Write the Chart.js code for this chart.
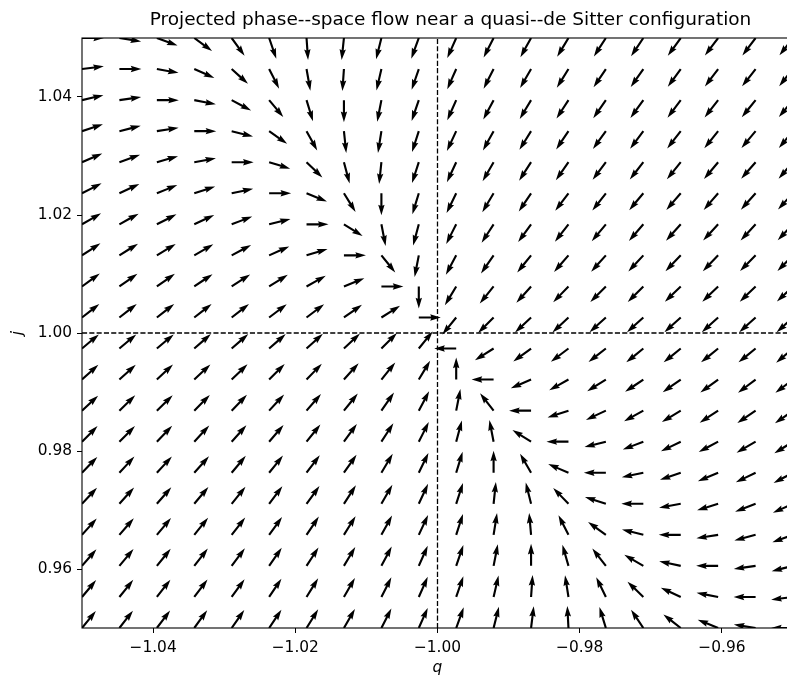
<!DOCTYPE html>
<html><head><meta charset="utf-8">
<script src="https://cdn.jsdelivr.net/npm/chart.js@4/dist/chart.umd.min.js"></script>
<style>html,body{margin:0;padding:0;background:#fff;overflow:hidden;} canvas{display:block;}</style>
</head><body>
<div style="width:800px;height:677px;position:relative"><canvas id="c" width="800" height="677"></canvas></div>
<script>
// Grid of the flow field (q = deceleration, j = jerk)
const qValues = [-1.05, -1.04474, -1.03947, -1.03421, -1.02895, -1.02368, -1.01842, -1.01316, -1.00789, -1.00263,
                 -0.99737, -0.99211, -0.98684, -0.98158, -0.97632, -0.97105, -0.96579, -0.96053, -0.95526, -0.95];
const jValues = [0.95, 0.95526, 0.96053, 0.96579, 0.97105, 0.97632, 0.98158, 0.98684, 0.99211, 0.99737,
                 1.00263, 1.00789, 1.01316, 1.01842, 1.02368, 1.02895, 1.03421, 1.03947, 1.04474, 1.05];
const qTicks = [-1.04, -1.02, -1.00, -0.98, -0.96];
const jTicks = [0.96, 0.98, 1.00, 1.02, 1.04];
const qRef = -1.0, jRef = 1.0;

const angleRows = [
  [51, 52, 53, 54, 55, 56, 58, 60, 63, 66, 70, 76, 83, 93, 107, 124, 142, 158, 171, 180],
  [50, 51, 52, 53, 54, 56, 58, 60, 63, 66, 71, 77, 86, 99, 116, 136, 155, 169, 180, -173],
  [49, 50, 51, 52, 53, 55, 57, 59, 62, 66, 71, 79, 90, 106, 128, 150, 168, 180, -172, -166],
  [48, 49, 50, 51, 52, 54, 56, 58, 61, 65, 72, 81, 95, 117, 144, 166, 180, -171, -165, -160],
  [47, 48, 49, 50, 51, 53, 54, 57, 60, 65, 72, 84, 104, 134, 162, 180, -170, -163, -159, -156],
  [46, 47, 47, 48, 50, 51, 53, 55, 59, 64, 73, 90, 120, 157, 180, -168, -161, -157, -154, -152],
  [45, 45, 46, 47, 48, 49, 51, 54, 57, 63, 75, 101, 148, 180, -166, -159, -154, -152, -150, -148],
  [43, 44, 44, 45, 46, 47, 49, 51, 55, 62, 79, 128, 180, -162, -155, -151, -149, -147, -146, -145],
  [42, 42, 43, 43, 44, 45, 46, 48, 51, 59, 90, 180, -157, -151, -148, -146, -145, -144, -143, -143],
  [40, 40, 40, 41, 41, 41, 42, 43, 45, 51, 180, -148, -144, -143, -142, -141, -141, -141, -141, -140],
  [38, 38, 38, 38, 38, 37, 37, 35, 32, 0, -129, -135, -137, -137, -138, -138, -138, -138, -138, -138],
  [36, 35, 35, 34, 33, 32, 29, 22, 0, -90, -121, -129, -132, -134, -135, -135, -136, -136, -136, -137],
  [33, 32, 31, 30, 28, 24, 17, 0, -51, -101, -118, -125, -129, -131, -132, -133, -134, -134, -135, -135],
  [30, 29, 27, 25, 21, 14, 0, -32, -79, -105, -117, -123, -126, -128, -130, -131, -132, -133, -133, -134],
  [27, 25, 22, 18, 12, 0, -22, -58, -90, -107, -116, -121, -124, -127, -128, -130, -131, -131, -132, -133],
  [23, 20, 16, 10, 0, -17, -44, -75, -96, -108, -115, -120, -123, -125, -127, -128, -129, -130, -131, -131],
  [18, 14, 9, 0, -14, -35, -61, -84, -99, -108, -115, -119, -122, -124, -126, -127, -128, -129, -130, -130],
  [13, 8, 0, -11, -28, -50, -73, -90, -101, -109, -114, -118, -121, -123, -125, -126, -127, -128, -129, -130],
  [7, 0, -10, -24, -42, -63, -80, -94, -103, -109, -114, -117, -120, -122, -124, -125, -126, -127, -128, -129],
  [0, -9, -20, -36, -54, -71, -86, -96, -104, -110, -114, -117, -119, -121, -123, -124, -126, -127, -127, -128]
];

const titleText = 'Projected phase--space flow near a quasi--de Sitter configuration';
const xLabel = 'q', yLabel = 'j';

const points = [];
jValues.forEach((jv, k) => qValues.forEach((qv, i) => points.push({x: qv, y: jv, a: angleRows[k][i]})));

const fmt = v => Number(v).toFixed(2).replace('-', '\u2212');
const FONT = '"DejaVu Sans", sans-serif';
const TICK_SIZE = 15.4, TITLE_SIZE = 18.5;

const quiver = {
  id: 'quiver',
  afterDatasetsDraw(chart) {
    const {ctx, chartArea: ca, scales} = chart;
    const meta = chart.getDatasetMeta(0);
    const data = chart.data.datasets[0].data;
    ctx.save();
    ctx.beginPath();
    ctx.rect(ca.left, ca.top, ca.right - ca.left, ca.bottom - ca.top);
    ctx.clip();
    ctx.fillStyle = '#000';
    const L = 22, w = 2.13;
    const shape = [[0,-w/2],[L-4.5*w,-w/2],[L-5*w,-1.5*w],[L,0],[L-5*w,1.5*w],[L-4.5*w,w/2],[0,w/2]];
    meta.data.forEach((el, idx) => {
      const th = data[idx].a * Math.PI / 180;
      const c = Math.cos(th), s = -Math.sin(th);
      ctx.beginPath();
      shape.forEach(([u, v], n) => {
        const X = el.x + u * c - v * s, Y = el.y + u * s + v * c;
        n ? ctx.lineTo(X, Y) : ctx.moveTo(X, Y);
      });
      ctx.closePath();
      ctx.fill();
    });
    // reference lines
    ctx.strokeStyle = '#000';
    ctx.lineWidth = 1.3;
    ctx.setLineDash([5.1, 2.2]);
    const xr = scales.x.getPixelForValue(qRef);
    ctx.beginPath(); ctx.moveTo(xr, ca.bottom); ctx.lineTo(xr, ca.top); ctx.stroke();
    const yr = scales.y.getPixelForValue(jRef);
    ctx.beginPath(); ctx.moveTo(ca.left, yr); ctx.lineTo(ca.right, yr); ctx.stroke();
    ctx.restore();

    ctx.save();
    ctx.strokeStyle = '#000';
    ctx.lineWidth = 1.1;
    ctx.strokeRect(ca.left, ca.top, ca.right - ca.left, ca.bottom - ca.top);
    ctx.fillStyle = '#000';
    ctx.font = TITLE_SIZE + 'px ' + FONT;
    ctx.textAlign = 'center';
    ctx.textBaseline = 'alphabetic';
    ctx.fillText(titleText, (ca.left + ca.right) / 2 + 13, 25);
    ctx.font = 'italic ' + TICK_SIZE + 'px ' + FONT;
    ctx.fillText(xLabel, (ca.left + ca.right) / 2, 672);
    ctx.translate(22, (ca.top + ca.bottom) / 2);
    ctx.rotate(-Math.PI / 2);
    ctx.fillText(yLabel, 0, 0);
    ctx.restore();
  }
};

new Chart(document.getElementById('c'), {
  type: 'scatter',
  data: { datasets: [{ data: points, pointRadius: 0, pointHoverRadius: 0, showLine: false }] },
  options: {
    responsive: false, animation: false, devicePixelRatio: 1,
    layout: { padding: { top: 38, right: 7, left: 0, bottom: 0 } },
    plugins: { legend: { display: false }, tooltip: { enabled: false }, title: { display: false } },
    events: [],
    scales: {
      x: {
        type: 'linear', min: -1.05, max: -0.95,
        afterBuildTicks: s => { s.ticks = qTicks.map(v => ({ value: v })); },
        afterFit: s => { s.height = 49; },
        ticks: { callback: v => fmt(v), color: '#000', font: { family: FONT, size: TICK_SIZE }, padding: 6, maxRotation: 0, autoSkip: false },
        grid: { drawOnChartArea: false, drawTicks: true, tickLength: 5, color: '#000', lineWidth: 1 },
        border: { display: false }
      },
      y: {
        type: 'linear', min: 0.95, max: 1.05,
        afterBuildTicks: s => { s.ticks = jTicks.map(v => ({ value: v })); },
        afterFit: s => { s.width = 82; },
        ticks: { callback: v => fmt(v), color: '#000', font: { family: FONT, size: TICK_SIZE }, padding: 5, autoSkip: false },
        grid: { drawOnChartArea: false, drawTicks: true, tickLength: 5, color: '#000', lineWidth: 1 },
        border: { display: false }
      }
    }
  },
  plugins: [quiver]
});
</script></body></html>
